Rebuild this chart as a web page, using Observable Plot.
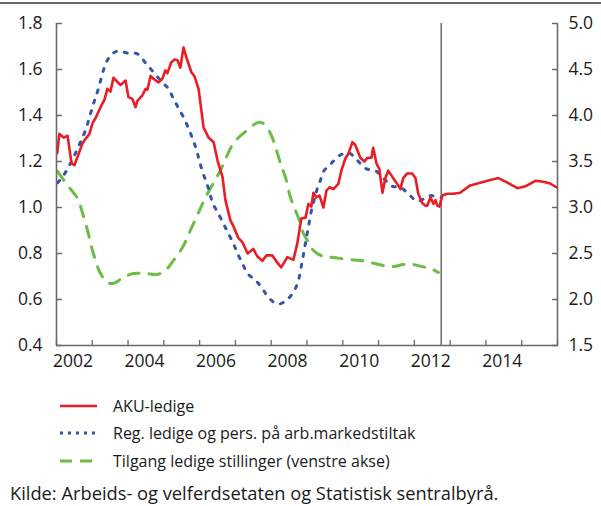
<!DOCTYPE html>
<html><head><meta charset="utf-8">
<script src="https://cdn.jsdelivr.net/npm/d3@7"></script>
<script src="https://cdn.jsdelivr.net/npm/@observablehq/plot@0.6"></script>
<style>
body{margin:0;background:#fff;font-family:"Open Sans",sans-serif;color:#1a1a1a;width:601px;}
.topline{margin-top:2px;border-top:2px solid #666;}
#legend{margin-top:12px;}
.row{display:flex;align-items:center;height:27.5px;padding-left:60px;font-size:16px;}
.row svg{margin-right:16px;}
.caption{margin-top:4px;padding-left:10px;height:27.5px;line-height:27.5px;font-size:18.3px;white-space:nowrap;}
</style></head><body>
<div class="topline"></div>
<div id="chart"></div>
<div id="legend"></div>
<div class="caption">Kilde: Arbeids- og velferdsetaten og Statistisk sentralbyrå.</div>
<script>
// AKU-ledige (right axis, percent)
const redYears = [2002.02,2002.08,2002.20,2002.31,2002.42,2002.50,2002.73,2002.84,2002.92,2003.01,
2003.09,2003.23,2003.34,2003.42,2003.51,2003.59,2003.79,2003.93,2004.01,2004.12,
2004.21,2004.26,2004.40,2004.49,2004.54,2004.63,2004.71,2004.85,2004.96,2005.04,
2005.10,2005.21,2005.30,2005.38,2005.46,2005.55,2005.63,2005.77,2005.85,2005.97,
2006.11,2006.25,2006.39,2006.50,2006.64,2006.72,2006.86,2006.94,2007.08,2007.20,
2007.34,2007.50,2007.61,2007.75,2007.87,2008.03,2008.17,2008.28,2008.45,2008.62,
2008.73,2008.84,2008.96,2009.04,2009.12,2009.18,2009.26,2009.35,2009.46,2009.54,
2009.63,2009.74,2009.88,2009.96,2010.07,2010.16,2010.27,2010.35,2010.49,2010.60,
2010.69,2010.80,2010.85,2010.94,2011.02,2011.11,2011.19,2011.27,2011.39,2011.50,
2011.61,2011.69,2011.80,2011.94,2012.03,2012.11,2012.22,2012.31,2012.36,2012.45,
2012.53,2012.59,2012.64,2012.70,2012.78,2012.92,2013.09,2013.28,2013.56,2013.84,
2014.12,2014.35,2014.60,2014.88,2015.10,2015.38,2015.60,2015.80,2015.97];
const redValues = [3.59,3.80,3.76,3.78,3.48,3.46,3.70,3.76,3.80,3.92,
3.97,4.09,4.17,4.29,4.26,4.41,4.33,4.38,4.20,4.18,
4.09,4.16,4.22,4.29,4.28,4.43,4.40,4.36,4.40,4.49,
4.46,4.58,4.61,4.60,4.52,4.74,4.63,4.47,4.43,4.29,
3.87,3.76,3.71,3.51,3.33,3.08,2.86,2.80,2.67,2.62,
2.50,2.55,2.47,2.42,2.48,2.48,2.40,2.35,2.46,2.43,
2.61,2.88,2.89,3.04,3.01,3.16,3.11,3.13,3.00,3.18,
3.22,3.20,3.26,3.40,3.53,3.59,3.71,3.68,3.54,3.50,
3.54,3.54,3.65,3.48,3.42,3.16,3.32,3.40,3.33,3.27,
3.20,3.32,3.37,3.37,3.32,3.15,3.05,3.02,3.02,3.11,
3.04,3.08,3.02,3.01,3.13,3.15,3.15,3.16,3.24,3.27,
3.30,3.32,3.27,3.21,3.23,3.29,3.28,3.26,3.22];

// Reg. ledige og pers. på arb.markedstiltak (right axis, percent)
const blueYears = [2002.03,2002.20,2002.39,2002.53,2002.67,2002.81,2002.95,2003.06,2003.17,2003.31,
2003.42,2003.56,2003.70,2003.98,2004.26,2004.49,2004.71,2004.96,2005.13,2005.27,
2005.41,2005.55,2005.69,2005.80,2005.91,2005.99,2006.08,2006.19,2006.27,2006.36,
2006.50,2006.66,2006.80,2006.94,2007.06,2007.20,2007.34,2007.56,2007.75,2007.95,
2008.20,2008.45,2008.65,2008.76,2008.84,2008.91,2008.98,2009.05,2009.12,2009.18,
2009.24,2009.30,2009.37,2009.46,2009.68,2009.93,2010.18,2010.41,2010.66,2010.91,
2011.13,2011.39,2011.61,2011.83,2012.08,2012.34,2012.47,2012.64,2012.75];
const blueValues = [3.27,3.35,3.48,3.59,3.71,3.84,4.02,4.16,4.29,4.49,
4.60,4.67,4.70,4.68,4.67,4.57,4.47,4.36,4.29,4.18,
4.08,3.98,3.86,3.75,3.63,3.51,3.39,3.27,3.18,3.05,
2.95,2.83,2.72,2.61,2.50,2.39,2.28,2.21,2.12,2.01,
1.95,2.00,2.10,2.21,2.36,2.51,2.66,2.81,2.96,3.05,
3.14,3.22,3.29,3.39,3.48,3.57,3.59,3.51,3.42,3.40,
3.32,3.23,3.22,3.15,3.07,3.11,3.13,3.11,3.11];

// Tilgang ledige stillinger (left axis)
const greenYears = [2002.03,2002.31,2002.59,2002.73,2002.89,2003.03,2003.23,2003.42,2003.59,2003.87,
2004.15,2004.49,2004.82,2005.04,2005.27,2005.52,2005.74,2005.97,2006.16,2006.58,
2006.94,2007.28,2007.64,2007.78,2007.98,2008.15,2008.26,2008.40,2008.54,2008.68,
2008.82,2008.90,2009.01,2009.18,2009.46,2009.74,2010.13,2010.49,2010.77,2011.13,
2011.41,2011.69,2011.97,2012.22,2012.45,2012.67];
const greenValues = [1.157,1.096,1.039,0.974,0.887,0.800,0.713,0.674,0.670,0.696,
0.713,0.713,0.709,0.726,0.770,0.826,0.900,0.978,1.043,1.161,
1.278,1.330,1.370,1.365,1.322,1.248,1.191,1.130,1.043,0.987,
0.930,0.887,0.857,0.813,0.787,0.783,0.774,0.770,0.761,0.748,
0.743,0.752,0.752,0.743,0.735,0.717];

const forecastStart = 2012.75;
const yearTicks = [2002,2003,2004,2005,2006,2007,2008,2009,2010,2011,2012,2013,2014,2015,2016];
const yearLabels = [2002,2004,2006,2008,2010,2012,2014];
const leftTicks = [0.4,0.6,0.8,1.0,1.2,1.4,1.6,1.8];
const rightTickLabels = ["1.5","2.0","2.5","3.0","3.5","4.0","4.5","5.0"];
const seriesNames = ["AKU-ledige","Reg. ledige og pers. på arb.markedstiltak","Tilgang ledige stillinger (venstre akse)"];

const colRed = "#ec1c24", colBlue = "#3455a8", colGreen = "#6cbd45", axisCol = "#6a6a6a";
const dashBlue = "3,8", dashGreen = "11,10";

// right axis (1.5–5.0) mapped onto left axis (0.4–1.8)
const toLeft = v => 0.4 + (v - 1.5) / 2.5;
const red = redYears.map((x, i) => ({x, y: toLeft(redValues[i])}));
const blue = blueYears.map((x, i) => ({x, y: toLeft(blueValues[i])}));
const green = greenYears.map((x, i) => ({x, y: greenValues[i]}));

const tickShape = {draw(ctx, l) { ctx.moveTo(0, 0); ctx.lineTo(0, -l); }};

const plot = Plot.plot({
  width: 601, height: 376,
  marginLeft: 56, marginRight: 44, marginTop: 19, marginBottom: 35,
  x: {domain: [2002, 2016]},
  y: {domain: [0.4, 1.8]},
  style: {fontFamily: "Open Sans, sans-serif", fontSize: "17.5px", color: "#1a1a1a", background: "white", overflow: "visible"},
  marks: [
    Plot.ruleX([forecastStart], {stroke: axisCol, strokeWidth: 1.5}),
    Plot.line(green, {x: "x", y: "y", stroke: colGreen, strokeWidth: 3, strokeDasharray: dashGreen, curve: "catmull-rom"}),
    Plot.line(blue, {x: "x", y: "y", stroke: colBlue, strokeWidth: 3, strokeDasharray: dashBlue, curve: "catmull-rom"}),
    Plot.line(red, {x: "x", y: "y", stroke: colRed, strokeWidth: 2.6, strokeLinejoin: "round"}),
    Plot.ruleY([0.4], {stroke: axisCol, strokeWidth: 1.6}),
    Plot.ruleX([2002, 2016], {stroke: axisCol, strokeWidth: 1.6}),
    Plot.vector(yearTicks, {x: d => d, frameAnchor: "bottom", rotate: 0, length: 5, anchor: "start", shape: tickShape, stroke: axisCol, strokeWidth: 1.3}),
    Plot.vector(leftTicks, {y: d => d, frameAnchor: "left", rotate: 90, length: 5, anchor: "start", shape: tickShape, stroke: axisCol, strokeWidth: 1.3}),
    Plot.vector(leftTicks, {y: d => d, frameAnchor: "right", rotate: -90, length: 5, anchor: "start", shape: tickShape, stroke: axisCol, strokeWidth: 1.3}),
    Plot.axisX({ticks: yearLabels.map(y => y + 0.5), tickSize: 0, tickPadding: 9, dx: -1.5, tickFormat: d => String(Math.floor(d)), label: null}),
    Plot.axisY({anchor: "left", ticks: leftTicks, tickSize: 0, tickPadding: 14, tickFormat: d => d.toFixed(1), label: null}),
    Plot.axisY({anchor: "right", ticks: leftTicks, tickSize: 0, tickPadding: 11, tickFormat: (d, i) => rightTickLabels[i], label: null})
  ]
});
document.getElementById("chart").appendChild(plot);

// legend
const legend = d3.select("#legend");
const styles = [
  {stroke: colRed, dash: null, w: 2.6},
  {stroke: colBlue, dash: "3,5", w: 3},
  {stroke: colGreen, dash: "12,8", w: 3}
];
seriesNames.forEach((name, i) => {
  const row = legend.append("div").attr("class", "row");
  const s = row.append("svg").attr("width", 37).attr("height", 10);
  s.append("line").attr("x1", 0).attr("x2", 37).attr("y1", 5).attr("y2", 5)
    .attr("stroke", styles[i].stroke).attr("stroke-width", styles[i].w)
    .attr("stroke-dasharray", styles[i].dash);
  row.append("span").text(name);
});
</script>
</body></html>
